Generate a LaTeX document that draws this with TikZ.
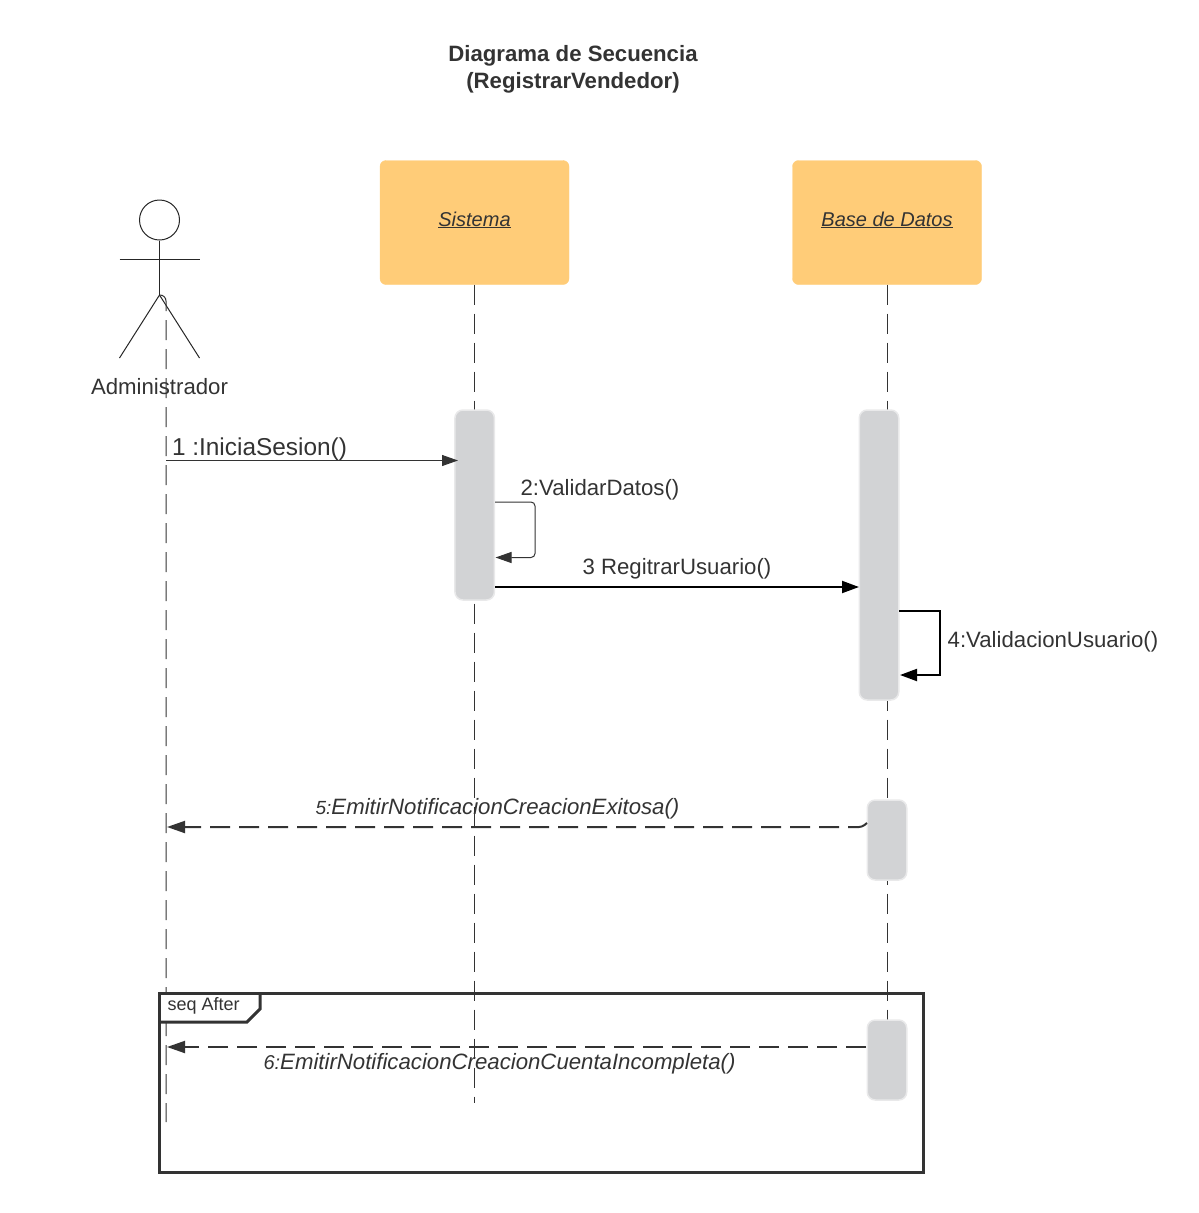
\documentclass[tikz,border=0pt]{standalone}
\usepackage{fontspec}
\setmainfont{Liberation Sans}
\usepackage{tikz}
\usetikzlibrary{arrows.meta}

\definecolor{inkgray}{HTML}{333333}
\definecolor{objorange}{HTML}{FFCC78}
\definecolor{actgray}{HTML}{D2D3D5}
\definecolor{actedge}{HTML}{E9E9EA}

\tikzset{
    object/.style={draw=objorange, fill=objorange, rounded corners=6pt, minimum width=189pt, minimum height=124pt, inner sep=0pt, text depth=7.5pt, text=inkgray, font=\fontsize{20}{24}\selectfont\itshape},
    activation/.style={draw=actedge, line width=1.5pt, fill=actgray, rounded corners=8pt, minimum width=39.5pt, inner sep=0pt},
    lifeline/.style={draw=inkgray, line width=1pt, dash pattern=on 20pt off 9pt},
    actorline/.style={draw=black!85, line width=1pt},
    label/.style={text=inkgray, inner sep=0pt, font=\fontsize{22.2}{26}\selectfont},
    thinmsg/.style={draw=inkgray, line width=1pt, -{Triangle[length=16pt,width=11pt]}, rounded corners=4pt},
    boldmsg/.style={draw=black, line width=2pt, -{Triangle[length=17pt,width=12pt]}},
    returnmsg/.style={draw=inkgray, line width=2pt, dash pattern=on 20pt off 9pt, -{Triangle[length=18pt,width=12pt]}, rounded corners=3pt},
}

\begin{document}
\begin{tikzpicture}[x=1pt, y=-1pt]
    \useasboundingbox (0,0) rectangle (1199,1213);

    % Title
    \node [text=inkgray, align=center, font=\fontsize{22.2}{27}\selectfont\bfseries] (title) at (573,69.5) {Diagrama de Secuencia\\(RegistrarVendedor)};

    % Lifeline ends
    \coordinate (adminTop) at (166,295);
    \coordinate (adminEnd) at (166,1122);
    \coordinate (sysEnd)   at (474.5,1103);
    \coordinate (baseEnd)  at (887,1101);

    % Objects
    \node [object] (sys)  at (474.5,222.5) {\underline{Sistema}};
    \node [object] (base) at (887,222.5)   {\underline{Base de Datos}};

    % Actor
    \node [draw=black!85, line width=1pt, circle, minimum size=40pt, inner sep=0pt] (head) at (159.5,220) {};
    \coordinate (hip)    at (159.5,295);
    \coordinate (armL)   at (119.5,259.5);
    \coordinate (armR)   at (199.5,259.5);
    \coordinate (footL)  at (119.5,358);
    \coordinate (footR)  at (199.5,358);
    \draw [actorline] (head.south) -- (hip);
    \draw [actorline] (armL) -- (armR);
    \draw [actorline] (footL) -- (hip) -- (footR);
    \node [label] (admin) at (159.5,387) {Administrador};

    % Lifelines
    \draw [lifeline, rounded corners=6pt] (hip) -- (adminTop) -- (adminEnd);
    \draw [lifeline] (sys.south) -- (sysEnd);
    \draw [lifeline] (base.south) -- (baseEnd);

    % Activations
    \node [activation, minimum height=190pt] (actSys)   at (474.7,505)  {};
    \node [activation, minimum height=290pt] (actBase)  at (879,555)  {};
    \node [activation, minimum height=80pt]  (actNote)  at (887,840)  {};

    % Frame
    \coordinate (tagO) at (159.5,993);
    \coordinate (tagA) at (260,993);
    \coordinate (tagB) at (260,1009);
    \coordinate (tagC) at (247,1022);
    \coordinate (tagD) at (159.5,1022);
    \fill [white] (tagO) -- (tagA) -- (tagB) -- (tagC) -- (tagD) -- cycle;
    \node [draw=inkgray, line width=3pt, minimum width=764pt, minimum height=179pt, inner sep=0pt] (frame) at (541.5,1082.5) {};
    \draw [draw=inkgray, line width=3pt] (tagA) -- (tagB) -- (tagC) -- (tagD);
    \node [label, font=\fontsize{18}{21}\selectfont, anchor=west] (seq) at (167.5,1006) {seq After};
    \node [activation, minimum height=80pt]  (actSeq)   at (887,1060) {};

    % Messages
    \coordinate (m1a) at (166,460.5);
    \coordinate (m1b) at (458,460.5);
    \coordinate (m2a) at (495,502);
    \coordinate (m2b) at (535,502);
    \coordinate (m2c) at (535,557.5);
    \coordinate (m2d) at (495.5,557.5);
    \coordinate (m3a) at (495,587);
    \coordinate (m3b) at (859,587);
    \coordinate (m4a) at (899,611);
    \coordinate (m4b) at (940,611);
    \coordinate (m4c) at (940,675);
    \coordinate (m4d) at (900,675);
    \coordinate (m5a) at (867,823);
    \coordinate (m5b) at (862,827);
    \coordinate (m5c) at (167,827);
    \coordinate (m6a) at (866,1047);
    \coordinate (m6b) at (167,1047);

    \path [thinmsg]   (m1a) -- (m1b);
    \path [thinmsg]   (m2a) -- (m2b) -- (m2c) -- (m2d);
    \path [boldmsg]   (m3a) -- (m3b);
    \path [boldmsg]   (m4a) -- (m4b) -- (m4c) -- (m4d);
    \path [returnmsg] (m5a) -- (m5b) -- (m5c);
    \path [returnmsg] (m6a) -- (m6b);

    % Message labels
    \node [label, font=\fontsize{24.4}{28}\selectfont] (l1) at (259.5,449) {1 :IniciaSesion()};
    \node [label] (l2) at (600,489.5)  {2:ValidarDatos()};
    \node [label] (l3) at (677,568.5)  {3 RegitrarUsuario()};
    \node [label] (l4) at (1053,642) {4:ValidacionUsuario()};
    \node [label, font=\fontsize{22.2}{26}\selectfont\itshape] (l5) at (497.5,809)  {{\fontsize{19}{26}\selectfont 5:}EmitirNotificacionCreacionExitosa()};
    \node [label, font=\fontsize{22.2}{26}\selectfont\itshape] (l6) at (499.5,1064) {{\fontsize{20}{26}\selectfont 6:}EmitirNotificacionCreacionCuentaIncompleta()};
\end{tikzpicture}
\end{document}
